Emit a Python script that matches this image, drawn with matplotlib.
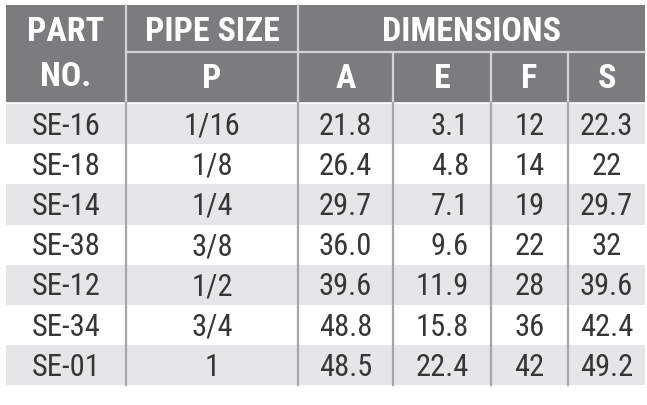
import matplotlib
matplotlib.use("Agg")
import matplotlib.pyplot as plt
from matplotlib.patches import Rectangle

plt.rcParams["font.family"] = ["Roboto Condensed", "Liberation Sans Narrow",
                               "Roboto", "DejaVu Sans"]

part_no = ["SE-16", "SE-18", "SE-14", "SE-38", "SE-12", "SE-34", "SE-01"]
pipe_size = ["1/16", "1/8", "1/4", "3/8", "1/2", "3/4", "1"]
dim_a = ["21.8", "26.4", "29.7", "36.0", "39.6", "48.8", "48.5"]
dim_e = ["3.1", "4.8", "7.1", "9.6", "11.9", "15.8", "22.4"]
dim_f = ["12", "14", "19", "22", "28", "36", "42"]
dim_s = ["22.3", "22", "29.7", "32", "39.6", "42.4", "49.2"]
dim_cols = ["A", "E", "F", "S"]

HEADER_GRAY = "#7b7c7e"
STRIPE = "#e6e6e8"
TEXT = "#363636"
HEAD_LINE = "#d4d4d6"
BODY_LINE = "#a6a6a8"

# column edges (pixels)
col_edges = [6, 126, 298, 393, 491, 568, 645]
head_top, head_mid, head_bot = 6, 53, 104
row_h = 40.2

fig = plt.figure(figsize=(6.47, 4.06), dpi=100)
ax = fig.add_axes([0, 0, 1, 1])
ax.set_xlim(0, 647)
ax.set_ylim(406, 0)
ax.axis("off")

left, right = col_edges[0], col_edges[-1]

# header background
ax.add_patch(Rectangle((left, head_top), right - left, head_bot - head_top,
                       facecolor=HEADER_GRAY, edgecolor="none"))

rows = list(zip(part_no, pipe_size, dim_a, dim_e, dim_f, dim_s))
n = len(rows)
for i, row in enumerate(rows):
    y0 = head_bot + 1 + i * row_h
    if i % 2 == 0:
        ax.add_patch(Rectangle((left, y0), right - left, row_h,
                               facecolor=STRIPE, edgecolor="none"))
    for j, val in enumerate(row):
        if j == 3:
            # the E column is set flush right
            ax.text(col_edges[4] - 22, y0 + row_h / 2 + 1, val, ha="right",
                    va="center", fontsize=22, color=TEXT)
        else:
            cx = (col_edges[j] + col_edges[j + 1]) / 2
            ax.text(cx, y0 + row_h / 2 + 1, val, ha="center", va="center",
                    fontsize=22, color=TEXT)

body_bot = head_bot + 1 + n * row_h

# header lines
ax.plot([col_edges[1], right], [head_mid, head_mid], color=HEAD_LINE, lw=1.6)
ax.plot([left, right], [head_bot, head_bot], color="white", lw=1.2)
ax.plot([col_edges[1], col_edges[1]], [head_top, head_bot], color=HEAD_LINE, lw=1.6)
ax.plot([col_edges[2], col_edges[2]], [head_top, head_bot], color=HEAD_LINE, lw=1.6)
for x in col_edges[3:-1]:
    ax.plot([x, x], [head_mid, head_bot], color=HEAD_LINE, lw=1.6)

# body vertical lines
for x in col_edges[1:-1]:
    ax.plot([x, x], [head_bot, body_bot], color=BODY_LINE, lw=1.6)

# header text
hkw = dict(ha="center", va="center", color="white", fontsize=24.5, fontweight="bold")
ax.text((col_edges[0] + col_edges[1]) / 2, 32, "PART", **hkw)
ax.text((col_edges[0] + col_edges[1]) / 2, 77, "NO.", **hkw)
ax.text((col_edges[1] + col_edges[2]) / 2, 32, "PIPE SIZE", **hkw)
ax.text((col_edges[1] + col_edges[2]) / 2, 79, "P", **hkw)
ax.text((col_edges[2] + col_edges[-1]) / 2, 32, "DIMENSIONS", **hkw)
for j, name in enumerate(dim_cols):
    cx = (col_edges[j + 2] + col_edges[j + 3]) / 2
    ax.text(cx, 79, name, **hkw)

fig.savefig("out.png", dpi=100)
